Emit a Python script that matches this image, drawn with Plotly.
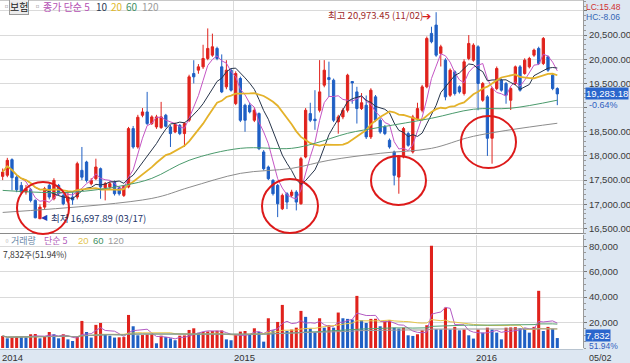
import plotly.graph_objects as go
import pandas as pd

W, H = 630, 363
RED = "#e0221c"
BLUE = "#1f5fc4"

start = pd.Timestamp("2014-01-20")

opens = [17577,17600,17923,17560,17390,17252,17300,17080,16700,16941,
 17390,17114,17390,17183,17060,17149,17149,17702,17874,17425,
 17529,17736,17342,17356,17460,17342,17183,17356,18565,18185,
 18841,18910,18669,18600,18586,18842,18600,18496,18635,18462,
 18738,19705,19775,19843,20016,20085,20224,19843,19429,19774,
 19083,19602,19049,19049,18738,18876,18082,17770,17494,17391,
 16907,17218,17183,17252,17011,17978,18876,18760,18945,19464,
 19620,19567,18704,18807,18945,19540,19325,18980,19049,18393,
 19222,18738,18600,18324,18082,17563,17978,18462,18082,18773,
 18945,19429,20535,20707,20120,19982,19256,19740,19429,19291,
 20016,19982,20258,19152,19222,18365,19394,19567,19498,19152,
 19498,19843,19705,19843,20085,20224,19913,20051,19671,19394]

closes = [17667,17909,17550,17300,17252,17321,17080,16720,16941,17321,
 17149,17494,17218,17010,17149,17090,17840,17560,17494,17494,
 17771,17356,17425,17425,17218,17218,17370,18565,18185,18800,
 18910,18669,18807,18807,18807,18614,18462,18655,18462,18669,
 19636,19636,19843,20016,20224,20258,20016,19325,19774,19360,
 19705,18738,18738,18911,18945,18151,17736,17529,17218,17011,
 17183,17045,17252,17045,17943,18945,18738,18730,19325,19774,
 19580,18738,18807,18945,19671,19510,18980,19100,18393,19360,
 18738,18496,18462,18185,17598,17978,18566,18220,18807,18980,
 19429,20431,20362,20085,20258,19222,19774,19291,19325,19947,
 20327,20292,19498,19498,18365,19394,19809,19360,19256,19394,
 19843,19360,19982,20016,20189,19913,20431,19774,19394,19283.18]

highs = [17740,17960,17950,17600,17460,17400,17340,17100,17000,17360,
 17420,17540,17420,17220,17250,17250,17880,18185,17900,17540,
 17943,17760,17460,17470,17490,17370,17400,18600,18620,18850,
 18990,19325,18840,18850,19118,18870,18640,18690,18660,18700,
 19680,19980,19900,20300,20638,20530,20260,20100,19980,19810,
 19750,19640,19080,19100,19000,18900,18120,17800,17520,17420,
 17220,17250,17300,17290,17980,18990,19100,19360,19982,19982,
 19950,19600,18850,18990,19700,19540,19430,19300,19250,19400,
 19260,18780,18640,18360,18110,18010,18600,18500,18850,19100,
 19470,20470,20673,20973.45,20300,20020,19810,19770,19460,20000,
 20500,20330,20290,19530,19260,19430,19850,19600,19530,19430,
 19870,19880,20020,20050,20220,20260,20460,20080,19700,19420]

lows = [17500,17560,17287,17250,17200,17200,17040,16710,16697.89,16900,
 17100,17080,17180,16980,17020,16990,17100,17500,17450,17390,
 17500,17114,17080,17300,17180,17180,17150,17330,18150,18150,
 18800,18640,18640,18560,18560,18590,18185,18470,18430,18185,
 18700,19500,19700,19800,19980,20050,19980,19300,19380,19330,
 19050,18700,18500,18880,18700,18120,17700,17500,17180,16734,
 16880,16900,17150,16873,16990,17950,18700,18540,18900,19420,
 19220,18700,18460,18760,18900,19080,18670,18950,18350,18350,
 18700,18460,18430,18150,17391,17218,17950,18190,18050,18740,
 18900,19400,20330,20050,19850,19150,19220,19250,19290,19250,
 19980,19950,18945,19120,18000,17840,19360,19330,19080,18950,
 19460,19330,19680,19810,20050,19880,19880,19740,19360,19050]

volumes = [9500,7600,8700,8900,8600,8400,10800,11000,7600,8700,
 12600,10800,7600,10800,6800,5500,8700,21300,12600,8200,
 18200,19700,10300,9700,8200,8400,8600,26000,17100,10000,
 10200,10600,10900,3700,9700,8700,7600,6100,9700,9900,
 14200,15500,12000,12600,13000,13400,13600,13800,6800,6100,
 10300,12900,13400,10300,15500,12600,5000,23400,13900,20500,
 33900,13400,14500,16000,29200,24500,15300,12400,23400,16000,
 17900,16000,27900,23400,22900,22400,41000,21800,19700,22900,
 23000,17100,20800,21800,16000,15300,16000,10000,9500,10800,
 13900,17900,80500,14700,14600,31800,14500,16600,13900,14500,
 10000,7400,14500,12100,16000,14500,12100,6800,16000,16200,
 16400,15500,15300,12100,16600,45000,13400,16600,15079,7832]

# 60- and 120-week price averages (week index, value)
ma60_idx = [0, 14, 26, 32, 40, 51, 62, 67, 74, 81, 92, 101, 109, 119]
ma60_val = [17287, 17245, 17390, 17536, 17909, 18157, 18157, 18261, 18468, 18593, 18779, 18966, 18987, 19153]
ma120_idx = [0, 32, 40, 51, 62, 70, 81, 92, 101, 119]
ma120_val = [16831, 17121, 17349, 17639, 17743, 17909, 18054, 18157, 18406, 18676]

price_ticks = [16500, 17000, 17500, 18000, 18500, 19000, 19500, 20000, 20500, 21000]
hidden_price_ticks = [19000, 21000]   # covered by the current-price box / LC-HC labels
vol_ticks = [20000, 40000, 60000, 80000]

n = len(opens)
dates = [start + pd.Timedelta(weeks=i) for i in range(n)]
cl = pd.Series(closes)
vs = pd.Series(volumes)

def px(xp):
    return xp / W

def py(yp):
    return 1 - yp / H

fig = go.Figure()

# price moving averages
ma_cfg = [(5, "#c455c4", 1), (10, "#26344a", 1), (20, "#e4b22a", 1.8)]
for w, c, lw in ma_cfg:
    fig.add_trace(go.Scatter(x=dates, y=cl.rolling(w, min_periods=1).mean(), mode="lines",
                             line=dict(color=c, width=lw), xaxis="x", yaxis="y",
                             hoverinfo="skip", showlegend=False))
fig.add_trace(go.Scatter(x=[dates[i] for i in ma60_idx], y=ma60_val, mode="lines",
                         line=dict(color="#4a9a6c", width=1, shape="spline"),
                         xaxis="x", yaxis="y", hoverinfo="skip", showlegend=False))
fig.add_trace(go.Scatter(x=[dates[i] for i in ma120_idx], y=ma120_val, mode="lines",
                         line=dict(color="#8c8c8c", width=1, shape="spline"),
                         xaxis="x", yaxis="y", hoverinfo="skip", showlegend=False))

fig.add_trace(go.Candlestick(x=dates, open=opens, high=highs, low=lows, close=closes,
                             increasing=dict(line=dict(color=RED, width=1), fillcolor=RED),
                             decreasing=dict(line=dict(color=BLUE, width=1), fillcolor=BLUE),
                             whiskerwidth=0, xaxis="x", yaxis="y", showlegend=False,
                             hoverinfo="skip"))

# volume
vcolors = [RED] + [RED if volumes[i] > volumes[i - 1] else BLUE for i in range(1, n)]
fig.add_trace(go.Bar(x=dates, y=volumes, marker=dict(color=vcolors, line=dict(width=0)),
                     width=4.6 * 86400000, xaxis="x", yaxis="y2", showlegend=False,
                     hoverinfo="skip"))
vma_cfg = [(5, "#b35bc4"), (20, "#e6c64a"), (60, "#58a070"), (120, "#9a9a9a")]
for w, c in vma_cfg:
    fig.add_trace(go.Scatter(x=dates, y=vs.rolling(w, min_periods=1).mean(), mode="lines",
                             line=dict(color=c, width=1), xaxis="x", yaxis="y2",
                             hoverinfo="skip", showlegend=False))

GRID = "#dadada"
AXBG = "#dde7f2"
LIB = "Liberation Sans, Arial, sans-serif"
TF = dict(family=LIB, size=9.5, color="#3a3a3a")

fig.update_layout(
    width=W, height=H, margin=dict(l=0, r=0, t=0, b=0),
    paper_bgcolor="white", plot_bgcolor="white",
    font=dict(family="Noto Sans CJK KR, sans-serif"),
    xaxis=dict(domain=[0, px(583)], type="date",
               range=["2014-01-16", "2016-06-09 14:00"],
               tickvals=["2015-01-01", "2016-01-01"], showticklabels=False,
               showgrid=True, gridcolor=GRID, zeroline=False, anchor="y2",
               rangeslider=dict(visible=False), ticks="", fixedrange=True),
    yaxis=dict(domain=[py(233.5), 1], range=[16395, 21226], side="right",
               tickvals=price_ticks,
               ticktext=["" if v in hidden_price_ticks else f"{v:,.2f}" for v in price_ticks],
               showgrid=True, gridcolor=GRID, zeroline=False, ticks="outside",
               ticklen=3, tickcolor="#777", tickfont=TF, showline=True,
               linecolor="#9a9a9a", anchor="x",
               minor=dict(dtick=100, ticks="outside", ticklen=2, tickcolor="#999")),
    yaxis2=dict(domain=[py(348), py(234.5)], range=[0, 89300], side="right",
                tickvals=vol_ticks, ticktext=[f"{v:,}" for v in vol_ticks],
                showgrid=True, gridcolor=GRID, zeroline=False, ticks="outside",
                ticklen=3, tickcolor="#777", tickfont=TF, showline=True,
                linecolor="#9a9a9a", anchor="x",
                minor=dict(dtick=5000, ticks="outside", ticklen=2, tickcolor="#999")),
    bargap=0.3,
)

shapes = [
    dict(type="rect", xref="paper", yref="paper", x0=px(583), x1=1, y0=0, y1=1,
         fillcolor=AXBG, line=dict(width=0), layer="below"),
    dict(type="rect", xref="paper", yref="paper", x0=0, x1=1, y0=0, y1=py(349.5),
         fillcolor=AXBG, line=dict(width=0), layer="below"),
    dict(type="line", xref="paper", yref="paper", x0=0, x1=px(583), y0=py(233.5), y1=py(233.5),
         line=dict(color="#8a8a8a", width=1.2)),
    dict(type="line", xref="paper", yref="paper", x0=0, x1=px(583), y0=py(349.5), y1=py(349.5),
         line=dict(color="#b8c4d0", width=1)),
    dict(type="line", xref="paper", yref="paper", x0=0, x1=px(583), y0=py(0.5), y1=py(0.5),
         line=dict(color="#c8c8c8", width=1)),
]
circles = [(43, 208, 26, 26), (290, 206, 28, 27), (398.5, 180.5, 27.5, 24.5), (488.5, 142, 27.5, 26)]
for cx, cy, rx, ry in circles:
    shapes.append(dict(type="circle", xref="paper", yref="paper",
                       x0=px(cx - rx), x1=px(cx + rx), y0=py(cy + ry), y1=py(cy - ry),
                       line=dict(color="#dd1a1a", width=2)))
fig.update_layout(shapes=shapes)

anns = []
def ann(xp, yp, text, color, size=10, xanchor="left", bg=None, border=None, family=None):
    d = dict(xref="paper", yref="paper", x=px(xp), y=py(yp), text=text, showarrow=False,
             xanchor=xanchor, yanchor="middle", font=dict(color=color, size=size),
             borderpad=0)
    if family:
        d["font"]["family"] = family
    if bg:
        d["bgcolor"] = bg
    if border:
        d["bordercolor"] = border
        d["borderwidth"] = 1
    anns.append(d)

# price header
ann(1, 7, "▫", "#888", 9)
ann(9, 7, "보험", "#222", 10, bg="#ececec", border="#9a9a9a")
ann(32, 7, "▫", "#888", 9)
ann(42, 7, "종가 단순 5", "#b450b4", 10)
ann(95, 7, "10", "#2c3a52", 10)
ann(110, 7, "20", "#e0b828", 10)
ann(125, 7, "60", "#3f8f62", 10)
ann(141, 7, "120", "#9a9a9a", 10)

# volume header
ann(2, 240, "▫", "#888", 8)
ann(10, 240, "거래량", "#6a88a8", 9)
ann(43, 240, "단순 5", "#b058b8", 9)
ann(77, 240, "20", "#e2c450", 9.5, family=LIB)
ann(92, 240, "60", "#3f8f62", 9.5, family=LIB)
ann(107, 240, "120", "#9a9a9a", 9.5, family=LIB)
ann(2, 253.5, "7,832주(51.94%)", "#333", 8.5)

# extremes
ann(327, 15, "최고 20,973.45 (11/02)", "#9e2a2a", 9.5)
ann(421, 15, "➔", "#d82020", 11)
ann(40, 217.5, "◀", "#2040b8", 8, family=LIB)
ann(50, 217.5, "최저 16,697.89 (03/17)", "#25356a", 9.5)

# right panel info
ann(585, 6.5, "LC:15.48", "#d03030", 8.5, family=LIB)
ann(585, 17, "HC:-8.06", "#3565b5", 8.5, family=LIB)
ann(585, 94, "19,283.18", "white", 9.5, bg="#2a66cc", family=LIB)
ann(588, 105, "-0.64%", "#3060c0", 9, family=LIB)
ann(585, 335, "7,832", "white", 9.5, bg="#2a66cc", family=LIB)
ann(588, 345.5, "51.94%", "#3060c0", 8.5, family=LIB)

# time labels
ann(1, 357.5, "2014", "#333", 9.5, family=LIB)
ann(233, 357.5, "2015", "#333", 9.5, family=LIB)
ann(475, 357.5, "2016", "#333", 9.5, family=LIB)
ann(588, 357.5, "05/02", "#333", 9, family=LIB)
fig.update_layout(annotations=anns)

fig.write_html("out.html")
